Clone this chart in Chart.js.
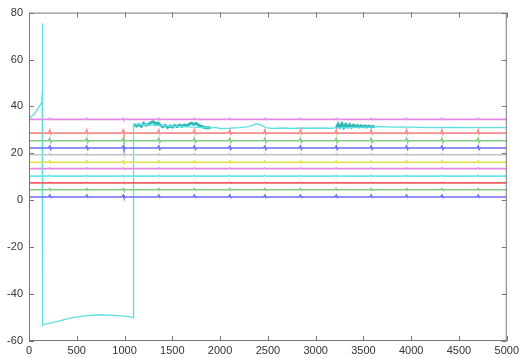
<!DOCTYPE html>
<html>
<head>
<meta charset="utf-8">
<script src="https://cdn.jsdelivr.net/npm/chart.js@4/dist/chart.umd.min.js"></script>
<style>
  html, body { margin: 0; padding: 0; background: #fff; }
  #wrap { width: 522px; height: 358px; }
  canvas { filter: blur(0.35px); }
</style>
</head>
<body>
<div id="wrap"><canvas id="myChart" width="522" height="358"></canvas></div>
<script>
// axis ticks
const xTicks = [0, 500, 1000, 1500, 2000, 2500, 3000, 3500, 4000, 4500, 5000];
const yTicks = [-60, -40, -20, 0, 20, 40, 60, 80];

// beat positions (samples) seen on every trace
const beatTimes = [218, 605, 985, 1359, 1732, 2102, 2469, 2842, 3216, 3582, 3952, 4322, 4702];

// flat offset traces, bottom to top
const traceLevels = [1.4, 4.5, 7.4, 10.3, 13.5, 16.2, 19.4, 22.3, 25.4, 28.6, 34.5];
const traceUp     = [0.8, 0.5, 0.2, 0.3, 0.3, 0.6, 0.4, 0.8, 1.0, 1.3, 0.4];
const traceDown   = [0.2, 0.2, 0.1, 0.2, 0.1, 0.2, 0.2, 0.6, 0.7, 0.4, 0.2];
const traceColors = ["#6c6cf4", "#86cc86", "#f25c5c", "#6ee6e6", "#e48ae4", "#e2e24c",
                     "#c4c4c4", "#6c6cf4", "#86cc86", "#f88c8c", "#e48ae4"];

// the odd cyan channel
const cyanX = [0, 60, 131, 136, 138, 140, 143, 150, 300, 450, 600, 750, 900, 1050, 1090, 1094,
  1900, 1950, 2000, 2100, 2200, 2300, 2380, 2430, 2480, 2550, 2650, 2750, 2850, 2950, 3050,
  3150, 3215, 3620, 3700, 3800, 3900, 4000, 4200, 4400, 4600, 4800, 5000];
const cyanY = [34.8, 37.0, 41.5, 45.5, 41.0, 75.5, -53.3, -53.0, -51.6, -50.0, -49.2, -48.8, -49.1, -49.6, -50.0, 32.4,
  30.9, 31.1, 30.6, 30.7, 31.0, 31.4, 32.6, 32.0, 31.0, 30.6, 30.8, 30.6, 30.8, 30.7, 30.8,
  30.7, 30.9, 31.3, 31.4, 31.2, 31.3, 31.2, 31.0, 31.1, 31.0, 31.0, 31.0];

// noisy stretches of the cyan channel
const noise1X = [1094, 1125, 1150, 1175, 1200, 1225, 1250, 1275, 1300, 1325, 1350, 1375, 1400, 1425,
  1450, 1475, 1500, 1525, 1550, 1575, 1600, 1625, 1650, 1675, 1700, 1725, 1750, 1775, 1800, 1825, 1850, 1900];
const noise1Y = [32.4, 31.6, 32.3, 31.5, 32.8, 31.9, 32.4, 33.0, 33.5, 32.6, 33.0, 32.0, 31.3, 32.0,
  31.0, 31.7, 31.2, 31.9, 31.4, 32.0, 31.5, 32.1, 31.7, 32.4, 32.9, 32.3, 32.8, 32.0, 31.6, 31.2, 30.9, 30.9];
const noise2X = [3215, 3235, 3255, 3275, 3295, 3315, 3335, 3355, 3375, 3395, 3415, 3435, 3455,
  3475, 3495, 3515, 3535, 3555, 3575, 3595, 3620];
const noise2Y = [30.9, 32.5, 31.2, 32.6, 31.0, 32.3, 31.3, 32.2, 31.1, 32.0, 31.4, 31.9, 31.2,
  31.8, 31.3, 31.7, 31.2, 31.6, 31.3, 31.5, 31.3];

function buildTrace(level, up, down) {
  const pts = [{ x: 0, y: level }];
  for (let i = 0; i < beatTimes.length; i++) {
    const b = beatTimes[i];
    pts.push({ x: b - 14, y: level });
    pts.push({ x: b, y: level + up });
    pts.push({ x: b + 9, y: level - down });
    pts.push({ x: b + 22, y: level });
  }
  pts.push({ x: 5000, y: level });
  return pts;
}

function zipPts(xs, ys) {
  let out = [];
  for (let i = 0; i < xs.length; i++) out.push({ x: xs[i], y: ys[i] });
  return out;
}

let datasets = [];
for (let i = 0; i < traceLevels.length; i++) {
  datasets.push({
    data: buildTrace(traceLevels[i], traceUp[i], traceDown[i]),
    borderColor: traceColors[i],
    borderWidth: 1.6,
  });
}
datasets.push({ data: zipPts(cyanX, cyanY), borderColor: "#5ee0e0", borderWidth: 1.3 });
datasets.push({ data: zipPts(noise1X, noise1Y), borderColor: "#2ab8b8", borderWidth: 2.8 });
datasets.push({ data: zipPts(noise2X, noise2Y), borderColor: "#2ab8b8", borderWidth: 2.8 });

// MATLAB style box with inward ticks
const boxTicks = {
  id: "boxTicks",
  afterDraw(chart) {
    const ctx = chart.ctx;
    const { left, right, top, bottom } = chart.chartArea;
    const xs = chart.scales.x, ys = chart.scales.y;
    ctx.save();
    ctx.strokeStyle = "#777";
    ctx.lineWidth = 1;
    ctx.strokeRect(left + 0.5, top + 0.5, right - left - 1, bottom - top - 1);
    ctx.beginPath();
    xTicks.forEach((v) => {
      const px = Math.round(xs.getPixelForValue(v)) + 0.5;
      ctx.moveTo(px, bottom); ctx.lineTo(px, bottom - 5);
      ctx.moveTo(px, top); ctx.lineTo(px, top + 5);
    });
    yTicks.forEach((v) => {
      const py = Math.round(ys.getPixelForValue(v)) + 0.5;
      ctx.moveTo(left, py); ctx.lineTo(left + 5, py);
      ctx.moveTo(right, py); ctx.lineTo(right - 5, py);
    });
    ctx.stroke();
    ctx.restore();
  },
};

const tickFont = { family: "Liberation Sans, Arial, sans-serif", size: 11 };

const config = {
  type: "line",
  data: { datasets: datasets },
  options: {
    responsive: false,
    animation: false,
    devicePixelRatio: 1,
    layout: { padding: { left: 0, top: 8, right: 11, bottom: 0 } },
    elements: { point: { radius: 0 }, line: { tension: 0 } },
    plugins: { legend: { display: false }, tooltip: { enabled: false } },
    scales: {
      x: {
        type: "linear", min: 0, max: 5000,
        afterBuildTicks: (s) => { s.ticks = xTicks.map((v) => ({ value: v })); },
        afterFit: (s) => { s.height = 17; },
        grid: { display: false, drawTicks: false, tickLength: 0 },
        border: { display: false },
        ticks: { padding: 3, maxRotation: 0, autoSkip: false, color: "#333", font: tickFont,
                 callback: (v) => String(v) },
      },
      y: {
        type: "linear", min: -60, max: 80,
        afterBuildTicks: (s) => { s.ticks = yTicks.map((v) => ({ value: v })); },
        afterFit: (s) => { s.width = 29; },
        grid: { display: false, drawTicks: false, tickLength: 0 },
        border: { display: false },
        ticks: { padding: 6, color: "#333", font: tickFont, callback: (v) => String(v) },
      },
    },
  },
  plugins: [boxTicks],
};

const myChart = new Chart(document.getElementById("myChart"), config);
</script>
</body>
</html>
